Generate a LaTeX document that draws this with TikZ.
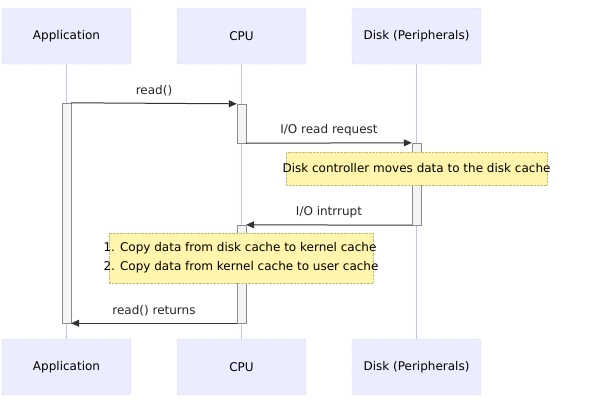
\documentclass[tikz,border=0pt]{standalone}
\usepackage{fontspec}
\setmainfont{DejaVu Sans}
\usetikzlibrary{arrows.meta, positioning}
\definecolor{actorfill}{RGB}{236,236,255}
\definecolor{actorline}{RGB}{170,170,185}
\definecolor{lifeline}{RGB}{200,195,240}
\definecolor{notefill}{RGB}{255,245,173}
\definecolor{noteline}{RGB}{190,190,110}
\definecolor{actfill}{RGB}{244,244,244}
\definecolor{msgline}{RGB}{51,51,51}
\tikzset{
    % Box styles
    actor box/.style={
        draw=actorline,
        fill=actorfill,
        densely dotted,
        rounded corners=2pt,
        minimum width=129pt,
        minimum height=56pt,
        font=\fontsize{12}{14}\selectfont
    },
    note box/.style={
        draw=noteline,
        fill=notefill,
        densely dotted,
        inner sep=0pt
    },
    act bar/.style={
        draw=black!45,
        fill=actfill,
        minimum width=9pt,
        inner sep=0pt
    },
    % Line styles
    life line/.style={
        lifeline,
        line width=0.8pt
    },
    msg arrow/.style={
        -{Triangle[length=8pt,width=7pt]},
        msgline,
        line width=1pt
    },
    msg label/.style={
        midway,
        above=3pt,
        text=black!85,
        font=\fontsize{12}{14}\selectfont
    },
    note text/.style={
        font=\fontsize{12}{19}\selectfont,
        align=left
    }
}
\begin{document}
\begin{tikzpicture}[x=1pt, y=-1pt]
    \useasboundingbox (0,0) rectangle (590,405);
    % actors
    \node[actor box] (app top) at (66.5,36) {Application};
    \node[actor box] (cpu top) at (241.5,36) {CPU};
    \node[actor box] (disk top) at (416.5,36) {Disk (Peripherals)};
    \node[actor box] (app bot) at (66.5,367) {Application};
    \node[actor box] (cpu bot) at (241.5,367) {CPU};
    \node[actor box] (disk bot) at (416.5,367) {Disk (Peripherals)};
    % life lines
    \draw[life line] (app top) -- (app bot);
    \draw[life line] (cpu top) -- (cpu bot);
    \draw[life line] (disk top) -- (disk bot);
    % activations
    \node[act bar, minimum height=220pt] (app act) at (66.5,213) {};
    \node[act bar, minimum height=39pt] (cpu act1) at (241.5,123.5) {};
    \node[act bar, minimum height=82pt] (disk act) at (416.5,184) {};
    \node[act bar, minimum height=98pt] (cpu act2) at (241.5,274) {};
    % notes
    \node[note box, minimum width=261pt, minimum height=33pt] (disk note) at (416.5,168.5) {};
    \node[note text] at (disk note) {Disk controller moves data to the disk cache};
    \node[note box, minimum width=264pt, minimum height=50pt] (copy note) at (241,258) {};
    \node[note text] at (copy note) {1. Copy data from disk cache to kernel cache\\2. Copy data from kernel cache to user cache};
    % messages
    \draw[msg arrow] (app act.north east) -- (cpu act1.north west)
        node[msg label] {read()};
    \draw[msg arrow] (cpu act1.south east) -- (disk act.north west)
        node[msg label] {I/O read request};
    \draw[msg arrow] (disk act.south west) -- (cpu act2.north east)
        node[msg label] {I/O intrrupt};
    \draw[msg arrow] (cpu act2.south west) -- (app act.south east)
        node[msg label] {read() returns};
\end{tikzpicture}
\end{document}
